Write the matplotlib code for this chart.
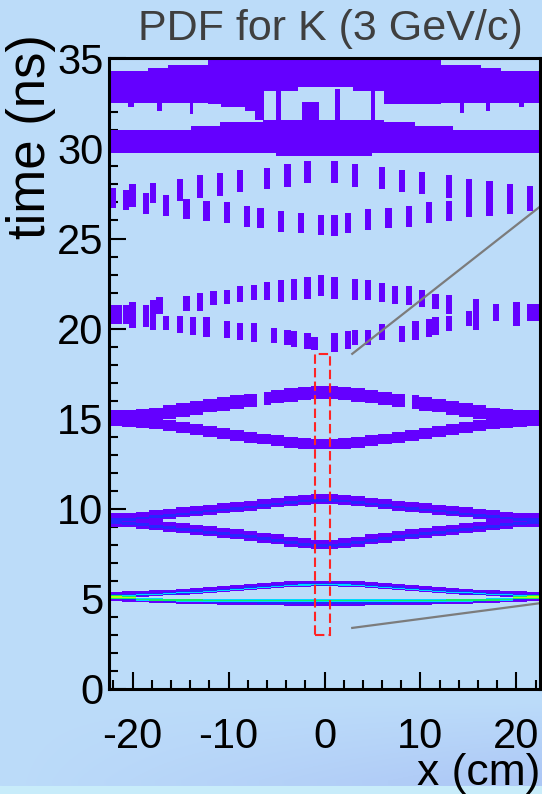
import numpy as np
import matplotlib
matplotlib.use("Agg")
import matplotlib.pyplot as plt
from matplotlib.patches import Rectangle
from matplotlib.ticker import MultipleLocator

plt.rcParams["font.family"] = ["Liberation Sans", "DejaVu Sans"]

BG = "#bcdcfa"
VIOLET = "#6400ff"
BLUE = "#2626ff"
CYAN = "#00d8ff"
GREEN = "#10f060"
LIME = "#b4ff10"

X_LO, X_HI = -22.45, 22.45
N_FINE = 64
nan = np.nan

# ---- smooth bands: half profiles (edge -> centre), 16 coarse bins ----
T15_UP = [15.10, 15.12, 15.16, 15.24, 15.36, 15.48, 15.60, 15.72,
          15.83, 15.93, 16.02, 16.12, 16.22, 16.32, 16.40, 16.45]
T15_DN = [14.90, 14.86, 14.80, 14.72, 14.62, 14.50, 14.40, 14.30,
          14.20, 14.08, 13.97, 13.87, 13.78, 13.70, 13.64, 13.60]
T9_UP = [9.48, 9.50, 9.56, 9.64, 9.72, 9.80, 9.88, 9.95,
         10.02, 10.10, 10.18, 10.26, 10.35, 10.43, 10.50, 10.55]
T9_DN = [9.28, 9.24, 9.18, 9.10, 9.00, 8.92, 8.84, 8.76,
         8.68, 8.60, 8.50, 8.40, 8.30, 8.18, 8.08, 8.02]
T5_ARC = [5.24, 5.26, 5.29, 5.32, 5.36, 5.40, 5.45, 5.50,
          5.55, 5.61, 5.67, 5.72, 5.77, 5.81, 5.84, 5.85]
T5_LOW = [5.00, 4.97, 4.94, 4.91, 4.88, 4.86, 4.84, 4.82,
          4.80, 4.79, 4.78, 4.77, 4.76, 4.75, 4.74, 4.74]
T5_LINE = [nan, nan, 4.96, 4.95, 4.94, 4.93, 4.93, 4.92,
           4.92, 4.91, 4.91, 4.91, 4.90, 4.90, 4.90, 4.90]
T5_EDGE = [5.10, 5.08, nan, nan, nan, nan, nan, nan,
           nan, nan, nan, nan, nan, nan, nan, nan]
GAPS_15_UP = [22, 44]          # empty fine bins in the upper 15 ns branch

# ---- dashed bands: fine bin index, t_lo, t_hi ----
K27 = [0, 2, 3, 5, 6, 8, 10, 11, 13, 14, 16, 17, 19, 20, 22, 23, 25, 26, 28, 29,
       31, 33, 33, 35, 36, 38, 40, 41, 43, 44, 46, 47, 50, 50, 53, 56, 59, 62]
T27_LO = [26.68, 26.58, 26.77, 26.36, 26.95, 26.27, 27.08, 26.06, 27.26, 25.97,
          27.38, 25.84, 27.56, 25.66, 25.57, 27.75, 25.38, 27.87, 25.29, 28.06,
          25.18, 28.06, 25.16, 25.29, 27.87, 25.47, 27.75, 25.57, 27.56, 25.66,
          27.45, 25.84, 27.26, 25.97, 26.18, 26.27, 26.36, 26.54]
T27_HI = [27.79, 27.69, 28.00, 27.51, 28.10, 27.41, 28.30, 27.19, 28.52, 27.10,
          28.62, 27.01, 28.80, 26.82, 26.71, 28.90, 26.53, 29.12, 26.43, 29.30,
          26.30, 29.30, 26.30, 26.40, 29.12, 26.62, 28.99, 26.71, 28.80, 26.80,
          28.71, 27.01, 28.52, 27.10, 28.30, 28.19, 28.00, 27.91]

K21 = [0, 1, 2, 3, 5, 6, 7, 8, 10, 11, 12, 13, 14, 15, 17, 17, 19, 19, 21, 21,
       23, 24, 25, 26, 27, 27, 29, 29, 30, 31, 33, 33, 35, 36, 36, 38, 38, 40,
       40, 42, 43, 44, 45, 46, 47, 48, 48, 50, 50, 53, 54, 57, 60, 62, 63]
T21_LO = [20.23, 20.23, 20.23, 20.04, 20.10, 19.95, 20.81, 19.90, 19.76, 20.96,
          19.66, 21.00, 19.56, 21.29, 21.39, 19.47, 21.48, 19.37, 21.58, 19.28,
          21.58, 19.18, 21.48, 19.08, 21.58, 18.99, 21.67, 18.89, 18.80, 21.81,
          21.67, 18.70, 18.89, 21.58, 19.08, 21.58, 19.08, 21.48, 19.37, 21.39,
          19.28, 21.29, 19.37, 21.19, 19.56, 21.10, 19.66, 20.81, 19.85, 20.14,
          19.95, 20.43, 20.14, 20.43, 20.43]
T21_HI = [21.29, 21.29, 21.29, 21.48, 21.30, 21.58, 21.77, 20.70, 20.71, 21.81,
          20.62, 21.96, 20.62, 22.06, 22.15, 20.43, 22.35, 20.33, 22.44, 20.33,
          22.58, 20.04, 22.69, 19.95, 22.77, 19.85, 22.88, 19.76, 19.56, 22.96,
          22.88, 19.76, 19.85, 22.73, 19.95, 22.69, 19.95, 22.54, 20.23, 22.38,
          20.14, 22.35, 20.43, 22.12, 20.52, 21.92, 20.62, 21.87, 20.71, 21.00,
          21.67, 21.38, 21.48, 21.38, 21.38]

# ---- 30-35 ns blocks: step edges (cm) and top / bottom per step ----
UP_EDGES = [-22.45, -18.4, -16.3, -12.1, -10.8, -8.3, -6.3, -2.8, 2.95, 6.2,
            12.1, 16.3, 18.4, 22.45]
UP_TOP = [34.30, 34.45, 34.65, 35.20, 35.20, 35.20, 35.20, 35.20, 35.20,
          35.20, 34.65, 34.45, 34.30]
UP_BOT = [32.50, 32.50, 32.50, 32.45, 32.30, 32.05, 33.20, 33.40, 33.20,
          32.45, 32.50, 32.50, 32.50]
LO_EDGES = [-22.45, -13.9, -10.9, -6.4, -5.1, 4.9, 6.2, 9.4, 13.4, 22.45]
LO_TOP = [31.00, 31.23, 31.48, 31.60, 31.60, 31.60, 31.48, 31.23, 31.00]
LO_BOT = [29.72, 29.72, 29.72, 29.72, 29.57, 29.72, 29.72, 29.72, 29.72]
# vertical strips hanging from the upper block: x0, x1, t_lo, t_hi
STRIP_X0 = [-7.2, -5.07, -2.35, 1.07, 4.87, -20.5, -17.4, -14.0, 14.1, 16.8, 20.3]
STRIP_X1 = [-6.3, -4.50, -0.55, 1.62, 5.23, -19.8, -16.9, -13.7, 14.5, 17.2, 20.8]
STRIP_LO = [31.6, 31.6, 31.6, 31.6, 31.6, 32.3, 32.1, 31.9, 31.95, 32.1, 32.3]
STRIP_HI = [32.6, 33.3, 32.6, 33.3, 33.3, 32.6, 32.6, 32.6, 32.6, 32.6, 32.6]


def full_profile(half):
    h = np.asarray(half, dtype=float)
    return np.repeat(np.concatenate([h, h[::-1]]), 2)


dx = (X_HI - X_LO) / N_FINE
xc = X_LO + (np.arange(N_FINE) + 0.5) * dx


def band(ax, half, thick, color, gaps=(), shift=0.0):
    c = full_profile(half) + shift
    c[list(gaps)] = nan
    ok = ~np.isnan(c)
    ax.bar(xc[ok], thick, bottom=c[ok] - thick / 2, width=dx, color=color,
           linewidth=0, antialiased=False, zorder=2)


W, H = 542, 794
fig = plt.figure(figsize=(W / 100, H / 100), dpi=100)

# backdrop: flat light blue, darker toward lower right, pale strip at the very bottom
yy, xx = np.mgrid[0:H, 0:W]
base = np.array(matplotlib.colors.to_rgb(BG))
deep = np.array(matplotlib.colors.to_rgb("#a6bef4"))
f = np.clip((yy - 700) / 80.0, 0, 1) * np.clip(xx / W, 0, 1) * 0.7
img = base[None, None, :] * (1 - f[..., None]) + deep[None, None, :] * f[..., None]
img[yy >= 786] = matplotlib.colors.to_rgb("#c8ecfb")
bg = fig.add_axes([0, 0, 1, 1], zorder=-10)
bg.imshow(img, aspect="auto", interpolation="bilinear")
bg.axis("off")

ax = fig.add_axes([109 / W, (H - 689) / H, 431 / W, 630.7 / H])
ax.set_facecolor("none")
ax.set_xlim(X_LO, X_HI)
ax.set_ylim(0, 35)

# 30-35 ns blocks
ax.stairs(UP_TOP, UP_EDGES, baseline=UP_BOT, fill=True, color=VIOLET, lw=0, zorder=2)
ax.stairs(LO_TOP, LO_EDGES, baseline=LO_BOT, fill=True, color=VIOLET, lw=0, zorder=2)
for x0, x1, lo, hi in zip(STRIP_X0, STRIP_X1, STRIP_LO, STRIP_HI):
    ax.bar(x0, hi - lo, bottom=lo, width=x1 - x0, align="edge", color=VIOLET,
           linewidth=0, zorder=2)

# dashed 20-29 ns bands
ax.bar(xc[K27], np.subtract(T27_HI, T27_LO), bottom=T27_LO, width=0.66,
       color=VIOLET, linewidth=0, zorder=2)
ax.bar(xc[K21], np.subtract(T21_HI, T21_LO), bottom=T21_LO, width=0.66,
       color=VIOLET, linewidth=0, zorder=2)

# 15 ns and 9 ns diamonds
band(ax, T15_DN, 0.60, VIOLET)
band(ax, T15_UP, 0.75, VIOLET, gaps=GAPS_15_UP)
band(ax, T9_UP, 0.55, VIOLET)
band(ax, T9_DN, 0.55, VIOLET)
band(ax, T9_UP, 0.14, BLUE, shift=-0.08)
band(ax, T9_DN, 0.16, BLUE, shift=-0.06)

# ~5 ns cluster
band(ax, T5_LOW, 0.24, VIOLET)
band(ax, T5_ARC, 0.32, VIOLET)
band(ax, T5_ARC, 0.14, BLUE, shift=-0.05)
band(ax, T5_ARC, 0.06, CYAN, shift=-0.07)
band(ax, T5_LOW, 0.10, BLUE, shift=0.02)
band(ax, T5_LINE, 0.16, CYAN)
band(ax, T5_LINE, 0.08, GREEN)
band(ax, T5_EDGE, 0.18, GREEN)
band(ax, T5_EDGE, 0.08, LIME)

# pointer lines and the selected slice
ax.plot([2.89, 23.0], [18.6, 27.0], color="#7c7c7c", lw=1.6, clip_on=False, zorder=5)
ax.plot([2.89, 23.0], [3.39, 4.80], color="#7c7c7c", lw=1.6, clip_on=False, zorder=5)
ax.add_patch(Rectangle((-1.03, 3.0), 1.62, 15.6, fill=False, ec="#ff2424",
                       lw=1.5, ls=(0, (4.5, 2)), zorder=6))

for s in ax.spines.values():
    s.set_linewidth(2.2)
    s.set_color("black")
    s.set_zorder(7)
ax.xaxis.set_major_locator(MultipleLocator(10))
ax.xaxis.set_minor_locator(MultipleLocator(2))
ax.yaxis.set_major_locator(MultipleLocator(5))
ax.yaxis.set_minor_locator(MultipleLocator(1))
ax.tick_params(which="both", direction="in", width=1.5, colors="black", zorder=7)
ax.tick_params(which="major", length=12)
ax.tick_params(which="minor", length=6.5)
ax.tick_params(axis="x", labelsize=30, pad=20)
ax.tick_params(axis="y", labelsize=30, pad=4)
ax.set_xticklabels([f"{v:g}" for v in ax.get_xticks()])

ax.set_ylabel("time (ns)", fontsize=38, loc="top")
ax.yaxis.set_label_coords(-0.124, 1.039)
fig.text(540 / W, 0 / H, "x (cm)", ha="right", va="bottom", fontsize=32)
fig.text(523 / W, 1 - 9 / H, "PDF for K (3 GeV/c)", ha="right", va="top",
         fontsize=31, color="#3f3f3f")

fig.savefig("out.png", dpi=100, facecolor=BG)
